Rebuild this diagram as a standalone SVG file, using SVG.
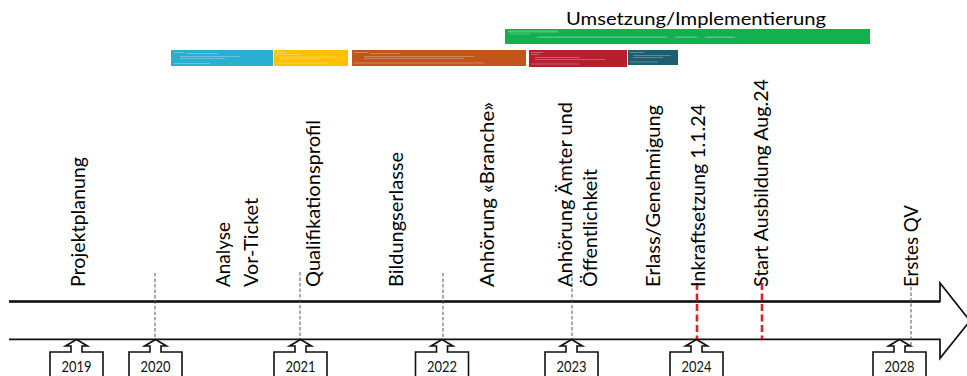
<svg xmlns="http://www.w3.org/2000/svg" width="967" height="376" viewBox="0 0 967 376">
<style>
.lbl{font-family:Lato,"Liberation Sans",sans-serif;font-size:19.5px;fill:#000}
.yr{font-family:Lato,"Liberation Sans",sans-serif;font-size:14.5px;fill:#111;text-anchor:middle}
.title{font-family:Lato,"Liberation Sans",sans-serif;font-size:17.5px;fill:#000}
.gd{stroke:#555;stroke-width:1;stroke-dasharray:3.5 2;fill:none}
.rd{stroke:#E0202A;stroke-width:2.6;stroke-dasharray:7 3.5;fill:none}
.call{fill:#fff;stroke:#111;stroke-width:1.6;stroke-linejoin:miter}
.ft{fill:#fff;opacity:0.28}
</style>
<defs>
<path id="callout" d="M-26.5,380 L-26.5,352 L-5.5,352 L-5.5,346 L-11,346 L0,339.5 L11,346 L5.5,346 L5.5,352 L26.5,352 L26.5,380"/>
</defs>
<rect width="967" height="376" fill="#fff"/>

<g id="phase-title">
<text class="title" x="566" y="25" textLength="260" lengthAdjust="spacingAndGlyphs">Umsetzung/Implementierung</text>
</g>

<g id="bar-green">
<rect x="505" y="29" width="365" height="15" fill="#13B04F"/>
<rect class="ft" x="508" y="30.5" width="50" height="2"/>
<rect class="ft" x="510" y="33.5" width="20" height="1"/>
<rect class="ft" x="537" y="36.5" width="130" height="1.5"/>
<rect class="ft" x="675" y="36.5" width="22" height="1.5"/>
<rect class="ft" x="705" y="36.5" width="30" height="1.5"/>
</g>
<g id="bar-cyan">
<rect x="171" y="50" width="102" height="16" fill="#2AAFD1"/>
<rect class="ft" x="174" y="52" width="10" height="1"/>
<rect class="ft" x="186" y="53" width="32" height="1"/>
<rect class="ft" x="180" y="56" width="60" height="1"/>
<rect class="ft" x="180" y="58" width="45" height="1"/>
<rect class="ft" x="174" y="63" width="36" height="1"/>
</g>
<g id="bar-yellow">
<rect x="274" y="50" width="74" height="16" fill="#FFC000"/>
<rect class="ft" x="276" y="52" width="10" height="1"/>
<rect class="ft" x="276" y="54" width="25" height="1"/>
<rect class="ft" x="280" y="56.5" width="58" height="1"/>
<rect class="ft" x="280" y="58.5" width="40" height="1"/>
<rect class="ft" x="276" y="62.5" width="52" height="1"/>
</g>
<g id="bar-brown">
<rect x="352" y="50" width="174" height="16" fill="#C2561A"/>
<rect class="ft" x="354" y="52" width="14" height="1"/>
<rect class="ft" x="370" y="53" width="30" height="1"/>
<rect class="ft" x="364" y="56" width="110" height="1"/>
<rect class="ft" x="364" y="58" width="100" height="1"/>
<rect class="ft" x="354" y="62.5" width="130" height="1"/>
</g>
<g id="bar-red">
<rect x="529" y="50" width="98" height="17" fill="#B4202D"/>
<rect class="ft" x="531" y="52" width="12" height="1"/>
<rect class="ft" x="531" y="54" width="8" height="1"/>
<rect class="ft" x="535" y="57" width="45" height="1"/>
<rect class="ft" x="535" y="59" width="70" height="1"/>
<rect class="ft" x="531" y="63.5" width="48" height="1"/>
</g>
<g id="bar-teal">
<rect x="628" y="50" width="50" height="15" fill="#1F5E6E"/>
<rect class="ft" x="630" y="52" width="14" height="1"/>
<rect class="ft" x="633" y="55" width="38" height="1"/>
<rect class="ft" x="633" y="57" width="30" height="1"/>
<rect class="ft" x="630" y="61.5" width="28" height="1"/>
</g>

<g id="timeline-arrow">
<path d="M9,301.5 L940,301.5 L940,283 L970,320.8 L940,358.3 L940,339.3 L9,339.3" fill="none" stroke="#111" stroke-width="1.7" stroke-linejoin="miter"/>
<line x1="9" y1="301.5" x2="940" y2="301.5" stroke="#111" stroke-width="2.6"/>
</g>

<g id="connectors">
<line class="gd" x1="155" y1="273" x2="155" y2="339"/>
<line class="gd" x1="300" y1="272" x2="300" y2="339"/>
<line class="gd" x1="443" y1="273" x2="443" y2="339"/>
<line class="gd" x1="572" y1="272" x2="572" y2="339"/>
<line class="gd" x1="911" y1="287" x2="911" y2="346"/>
<line class="rd" x1="697" y1="283" x2="697" y2="339"/>
<line class="rd" x1="762" y1="283" x2="762" y2="339"/>
</g>

<g id="m-projektplanung"><text class="lbl" transform="translate(84.5,287) rotate(-90)" textLength="130" lengthAdjust="spacingAndGlyphs">Projektplanung</text></g>
<g id="m-analyse"><text class="lbl" transform="translate(229.5,287) rotate(-90)" textLength="65" lengthAdjust="spacingAndGlyphs">Analyse</text>
<text class="lbl" transform="translate(257.5,287) rotate(-90)" textLength="89" lengthAdjust="spacingAndGlyphs">Vor-Ticket</text></g>
<g id="m-qualifikationsprofil"><text class="lbl" transform="translate(319.5,287) rotate(-90)" textLength="167" lengthAdjust="spacingAndGlyphs">Qualifikationsprofil</text></g>
<g id="m-bildungserlasse"><text class="lbl" transform="translate(403,287) rotate(-90)" textLength="135" lengthAdjust="spacingAndGlyphs">Bildungserlasse</text></g>
<g id="m-anhoerung-branche"><text class="lbl" transform="translate(493.5,287) rotate(-90)" textLength="185" lengthAdjust="spacingAndGlyphs">Anhörung «Branche»</text></g>
<g id="m-anhoerung-aemter"><text class="lbl" transform="translate(572,287) rotate(-90)" textLength="185" lengthAdjust="spacingAndGlyphs">Anhörung Ämter und</text>
<text class="lbl" transform="translate(597,287) rotate(-90)" textLength="118" lengthAdjust="spacingAndGlyphs">Öffentlichkeit</text></g>
<g id="m-erlass"><text class="lbl" transform="translate(659.5,287) rotate(-90)" textLength="182" lengthAdjust="spacingAndGlyphs">Erlass/Genehmigung</text></g>
<g id="m-inkraftsetzung"><text class="lbl" transform="translate(704.5,287) rotate(-90)" textLength="183" lengthAdjust="spacingAndGlyphs">Inkraftsetzung 1.1.24</text></g>
<g id="m-start-ausbildung"><text class="lbl" transform="translate(767.5,287) rotate(-90)" textLength="208" lengthAdjust="spacingAndGlyphs">Start Ausbildung Aug.24</text></g>
<g id="m-erstes-qv"><text class="lbl" transform="translate(917.5,287) rotate(-90)" textLength="82" lengthAdjust="spacingAndGlyphs">Erstes QV</text></g>

<g id="y2019"><use href="#callout" class="call" x="76.5"/><text class="yr" x="76.5" y="371.5" textLength="30" lengthAdjust="spacingAndGlyphs">2019</text></g>
<g id="y2020"><use href="#callout" class="call" x="155.5"/><text class="yr" x="155.5" y="371.5" textLength="30" lengthAdjust="spacingAndGlyphs">2020</text></g>
<g id="y2021"><use href="#callout" class="call" x="300.5"/><text class="yr" x="300.5" y="371.5" textLength="30" lengthAdjust="spacingAndGlyphs">2021</text></g>
<g id="y2022"><use href="#callout" class="call" x="442"/><text class="yr" x="442" y="371.5" textLength="30" lengthAdjust="spacingAndGlyphs">2022</text></g>
<g id="y2023"><use href="#callout" class="call" x="571.5"/><text class="yr" x="571.5" y="371.5" textLength="30" lengthAdjust="spacingAndGlyphs">2023</text></g>
<g id="y2024"><use href="#callout" class="call" x="696.5"/><text class="yr" x="696.5" y="371.5" textLength="30" lengthAdjust="spacingAndGlyphs">2024</text></g>
<g id="y2028"><use href="#callout" class="call" x="899.5"/><text class="yr" x="899.5" y="371.5" textLength="30" lengthAdjust="spacingAndGlyphs">2028</text></g>
</svg>
